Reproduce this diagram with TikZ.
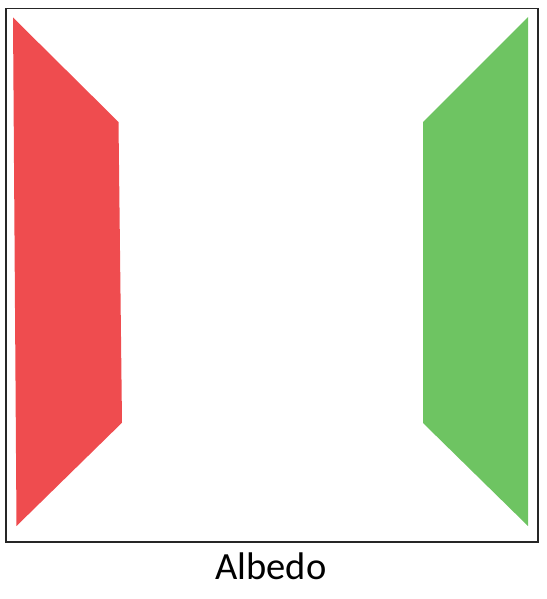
\documentclass[tikz,border=0pt]{standalone}
\usepackage{fontspec}
\setmainfont{Carlito}
\definecolor{wallred}{RGB}{239,76,79}
\definecolor{wallgreen}{RGB}{110,196,98}
\begin{document}
\begin{tikzpicture}[x=1pt,y=-1pt,
  frame/.style={draw=black!85,line width=1.5pt},
  redwall/.style={fill=wallred},
  greenwall/.style={fill=wallgreen},
  caption/.style={font=\fontsize{38.5}{42}\selectfont,inner sep=0pt}]
\useasboundingbox (0,0) rectangle (546,599);
\fill[redwall] (13,17.5) -- (118.5,122) -- (122,422.7) -- (16.5,526) -- cycle;
\fill[greenwall] (528,17) -- (423,122) -- (423,423) -- (528,526) -- cycle;
\node[frame,minimum width=532pt,minimum height=533pt,inner sep=0pt,anchor=north west] (box) at (5,8) {};
\node[caption,anchor=base] (label) at (271,579.5) {Albedo};
\end{tikzpicture}
\end{document}
